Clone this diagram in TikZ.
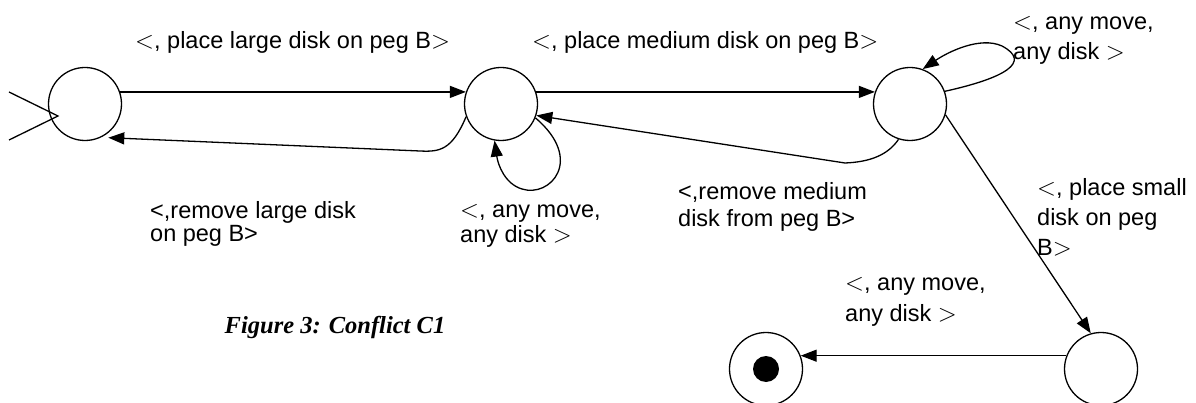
\documentclass[tikz,border=0pt]{standalone}
\usepackage{fontspec}
\setmainfont{Liberation Sans}
\newfontfamily\capfont{Liberation Serif}
\usetikzlibrary{arrows.meta}

\begin{document}
\begin{tikzpicture}[x=1pt,y=-1pt,
  state/.style={circle,draw,line width=1.3pt,minimum size=73pt,inner sep=0pt},
  arr/.style={-{Triangle[length=16pt,width=12pt]},line width=1.3pt},
  lbl/.style={font=\fontsize{23.5}{#1}\selectfont,align=left,inner sep=0pt,anchor=west},
  lbl/.default=27]
\useasboundingbox (0,0) rectangle (1196,403);
% states
\node[state] (s1) at (85,104) {};
\node[state] (s2) at (501,104) {};
\node[state] (s3) at (910,104) {};
\node[state] (s4) at (1101,369) {};
\node[state] (fin) at (766,369) {};
\node[circle,fill,minimum size=26pt,inner sep=0pt] (dot) at (fin) {};
% start marker
\coordinate (in1) at (9,92);
\coordinate (in2) at (9,140);
\coordinate (tip) at (58,116);
\draw[line width=1.3pt] (in1) -- (tip) -- (in2);
% transitions
\draw[arr] (s1.19) -- (s2.161);
\draw[arr,shorten >=7pt] (s2.200) .. controls (452,150) and (440,152) .. (420,151) -- (s1.-64);
\draw[arr] (s2.-22) .. controls (585,160) and (550,198) .. (522,189) .. controls (505,184) and (498,165) .. (s2.-100);
\draw[arr] (s2.19) -- (s3.161);
\draw[arr] (s3.-108) .. controls (888,155) and (870,162) .. (845,163) -- (s2.-18);
\draw[arr] (s3.20) .. controls (1005,78) and (1032,62) .. (1002,46) .. controls (980,36) and (948,52) .. (s3.70);
\draw[arr] (s3.-17) -- (s4.106);
\draw[arr] (s4.159) -- (fin.21);
% labels
\node[lbl] (l1) at (135,42) {$<$, place large disk on peg B$>$};
\node[lbl] (l2) at (532,42) {$<$, place medium disk on peg B$>$};
\node[lbl=30] (l3) at (1013,40) {$<$, any move,\\any disk $>$};
\node[lbl=23] (l4) at (150,224) {<,remove large disk\\on peg B>};
\node[lbl=25] (l5) at (460,226) {$<$, any move,\\any disk $>$};
\node[lbl=27] (l6) at (678,207) {<,remove medium\\disk from peg B>};
\node[lbl=30] (l7) at (1037,217) {$<$, place small\\disk on peg\\B$>$};
\node[lbl=31] (l8) at (845,302) {$<$, any move,\\any disk $>$};
\node[font=\capfont\bfseries\itshape\fontsize{24.5}{28}\selectfont] (cap) at (335,327) {Figure 3: Conflict C1};
\end{tikzpicture}
\end{document}
